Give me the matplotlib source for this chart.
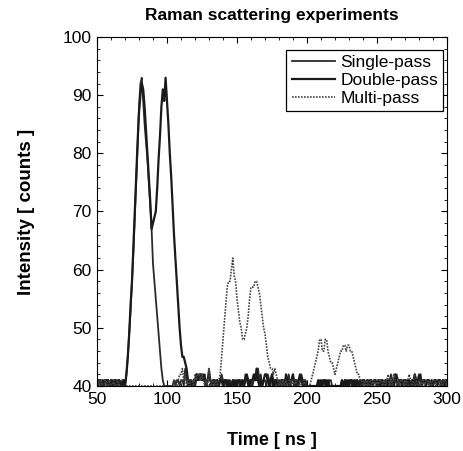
import matplotlib
matplotlib.use("Agg")
import matplotlib.pyplot as plt
import numpy as np
from matplotlib.ticker import MultipleLocator

plt.rcParams['font.family'] = ['Liberation Sans', 'DejaVu Sans']

# time axis, one sample per ns
time_ns = np.arange(50, 301)

# Single-pass: one pulse around 82 ns, then baseline noise
single_pass = (
    [41, 40, 41, 41, 40, 41, 41, 40, 41, 40, 41, 41, 40, 41, 41, 40, 41, 40, 41, 41]
    + [40, 42, 45, 49, 53, 58, 63, 69, 75, 81, 88, 92, 93, 89, 85, 82, 79, 75, 71, 67,
       61, 58, 55, 52, 49, 46, 43, 41, 40]
    + [40, 40, 40, 40, 40, 40, 41, 40, 41, 41,
       40, 41, 41, 40, 43, 41, 40, 41, 41, 40,
       41, 40, 42, 42, 41, 42, 42, 41, 42, 40,
       41, 43, 41, 40, 41, 40, 41, 41, 40, 41,
       42, 41, 40, 41, 41, 40, 41, 40, 41, 41,
       40, 41, 41, 40, 41, 41, 40, 42, 41, 40,
       41, 41, 40, 41, 42, 41, 43, 41, 42, 40,
       41, 41, 40, 42, 41, 40, 42, 41, 40, 41,
       41, 40, 41, 41, 40, 41, 40, 41, 42, 40,
       41, 42, 40, 41, 41, 40, 41, 42, 41, 40,
       41, 40, 40, 40, 40, 40, 40, 40, 40, 40,
       41, 40, 41, 41, 40, 41, 40, 41, 41, 40,
       40, 40, 40, 40, 40, 40, 41, 40, 41, 41,
       40, 41, 41, 40, 41, 40, 41, 41, 40, 41,
       41, 40, 41, 40, 41, 41, 40, 41, 40, 41,
       41, 40, 41, 41, 40, 41, 40, 41, 41, 40,
       41, 42, 41, 40, 41, 42, 41, 40, 41, 41,
       40, 41, 41, 40, 41, 40, 41, 41, 42, 40,
       41, 42, 41, 40, 41, 41, 40, 41, 41, 40,
       41, 40, 41, 41, 40, 41, 41, 40, 41, 41,
       40, 41]
)

# Double-pass: pulse at 82 ns plus second pulse at 99 ns
double_pass = (
    [40, 41, 41, 40, 41, 40, 41, 41, 41, 40, 41, 40, 41, 41, 40, 41, 41, 40, 40, 41]
    + [40, 42, 45, 49, 54, 58, 64, 70, 76, 82, 87, 90, 92, 91, 88, 84, 80, 76, 72, 67]
    + [68, 69, 70, 74, 79, 83, 88, 91, 89, 93, 89, 85, 80, 76, 71, 66, 62, 58, 54, 50,
       47, 45, 45, 44, 43, 41, 40]
    + [41, 40, 41, 40, 42, 41, 42, 42, 41, 42,
       41, 40, 41, 42, 41, 40, 41, 41, 40, 41,
       40, 41, 41, 40, 41, 41, 40, 41, 40, 40,
       41, 40, 41, 40, 41, 41, 40, 41, 40, 41,
       42, 41, 40, 41, 41, 42, 41, 43, 41, 40,
       41, 40, 41, 42, 42, 41, 40, 41, 42, 40,
       41, 41, 40, 41, 40, 41, 41, 40, 42, 41,
       40, 41, 41, 42, 40, 41, 40, 41, 42, 41,
       40, 41, 40, 40, 40, 40, 40, 40, 40, 40,
       40, 41, 40, 41, 40, 41, 41, 40, 41, 40,
       40, 40, 40, 40, 40, 40, 40, 40, 41, 40,
       41, 40, 41, 40, 41, 41, 40, 41, 40, 41,
       40, 41, 40, 41, 41, 40, 41, 40, 41, 41,
       40, 41, 41, 40, 41, 40, 41, 41, 40, 41,
       40, 41, 41, 40, 41, 40, 42, 41, 40, 41,
       41, 40, 41, 41, 40, 41, 41, 40, 41, 40,
       42, 41, 40, 41, 42, 40, 41, 41, 40, 41,
       41, 40, 41, 40, 41, 41, 40, 41, 41, 40,
       41, 40, 41, 41]
)

# Multi-pass: later double pulses near 150-165 ns and 210-230 ns
multi_pass = (
    [40, 41, 40, 41, 40, 40, 41, 40, 40, 41,
     40, 40, 41, 40, 40, 41, 40, 40, 40, 40,
     40, 40, 40, 40, 40, 40, 40, 40, 40, 40,
     40, 40, 40, 40, 40, 40, 40, 40, 40, 40,
     40, 40, 40, 40, 40, 40, 40, 40, 40, 40]
    + [40, 40, 40, 40, 40, 41, 41, 40, 41, 42,
       42, 43, 41, 42, 40, 41, 40, 41, 41, 40,
       42, 41, 42, 42, 41, 42, 41, 40, 41, 40,
       43, 41, 40, 41, 40, 41]
    + [40, 41, 42, 45, 48, 51, 54, 57, 58, 58, 60, 62, 59, 58, 55, 53, 51, 50, 48, 48,
       49, 50, 52, 55, 57, 57, 57, 58, 58, 57, 56, 54, 52, 50, 49, 47, 45, 44, 43, 43,
       42, 43, 42, 41, 40]
    + [41, 40, 41, 40, 41, 40, 40, 41, 40, 41, 40, 41, 40, 40, 41, 40, 40, 41, 40, 40, 40]
    + [40, 41, 42, 43, 44, 45, 46, 48, 48, 46, 46, 48, 48, 46, 45, 44, 44, 43, 42, 43,
       44, 45, 46, 46, 47, 47, 46, 47, 47, 46, 46, 45, 44, 43, 42, 42, 41, 41, 40]
    + [41, 40, 41, 40, 41, 41, 40, 41, 40, 41,
       40, 41, 41, 40, 41, 40, 41, 42, 40, 41,
       40, 42, 41, 40, 41, 40, 41, 41, 40, 41,
       40, 41, 42, 41, 40, 41, 42, 41, 40, 41,
       41, 40, 41, 40, 41, 41, 40, 41, 40, 41,
       41, 40, 41, 41, 40, 41, 40, 41, 41, 40]
)

fig = plt.figure(figsize=(4.63, 4.51), dpi=100)
ax = fig.add_axes([0.2095, 0.1441, 0.7559, 0.7739])

ax.plot(time_ns, single_pass, color='#2a2a2a', lw=1.3, label='Single-pass')
ax.plot(time_ns, double_pass, color='#1a1a1a', lw=1.6, label='Double-pass')
ax.plot(time_ns, multi_pass, color='#444444', lw=1.2, ls=(0, (1, 0.8)), label='Multi-pass')

ax.set_xlim(50, 300)
ax.set_ylim(40, 100)
ax.xaxis.set_major_locator(MultipleLocator(50))
ax.xaxis.set_minor_locator(MultipleLocator(10))
ax.yaxis.set_major_locator(MultipleLocator(10))
ax.yaxis.set_minor_locator(MultipleLocator(2))
ax.tick_params(which='both', direction='in', top=True, right=True, labelsize=12.5, pad=4)
ax.tick_params(which='major', length=4, width=0.8)
ax.tick_params(which='minor', length=2, width=0.6)
for s in ax.spines.values():
    s.set_linewidth(0.8)

ax.set_title('Raman scattering experiments', fontsize=12.5, fontweight='bold', pad=12)
ax.set_xlabel('Time [ ns ]', fontsize=13, fontweight='bold', labelpad=18)
ax.set_ylabel('Intensity [ counts ]', fontsize=13.5, fontweight='bold', labelpad=20)

leg = ax.legend(loc='upper right', bbox_to_anchor=(0.989, 0.963), fontsize=12.5,
                frameon=True, fancybox=False, edgecolor='black', framealpha=1,
                handlelength=2.5, handletextpad=0.3, labelspacing=0.15, borderpad=0.3,
                borderaxespad=0)
leg.get_frame().set_linewidth(0.9)

fig.savefig('out.png', dpi=100)
